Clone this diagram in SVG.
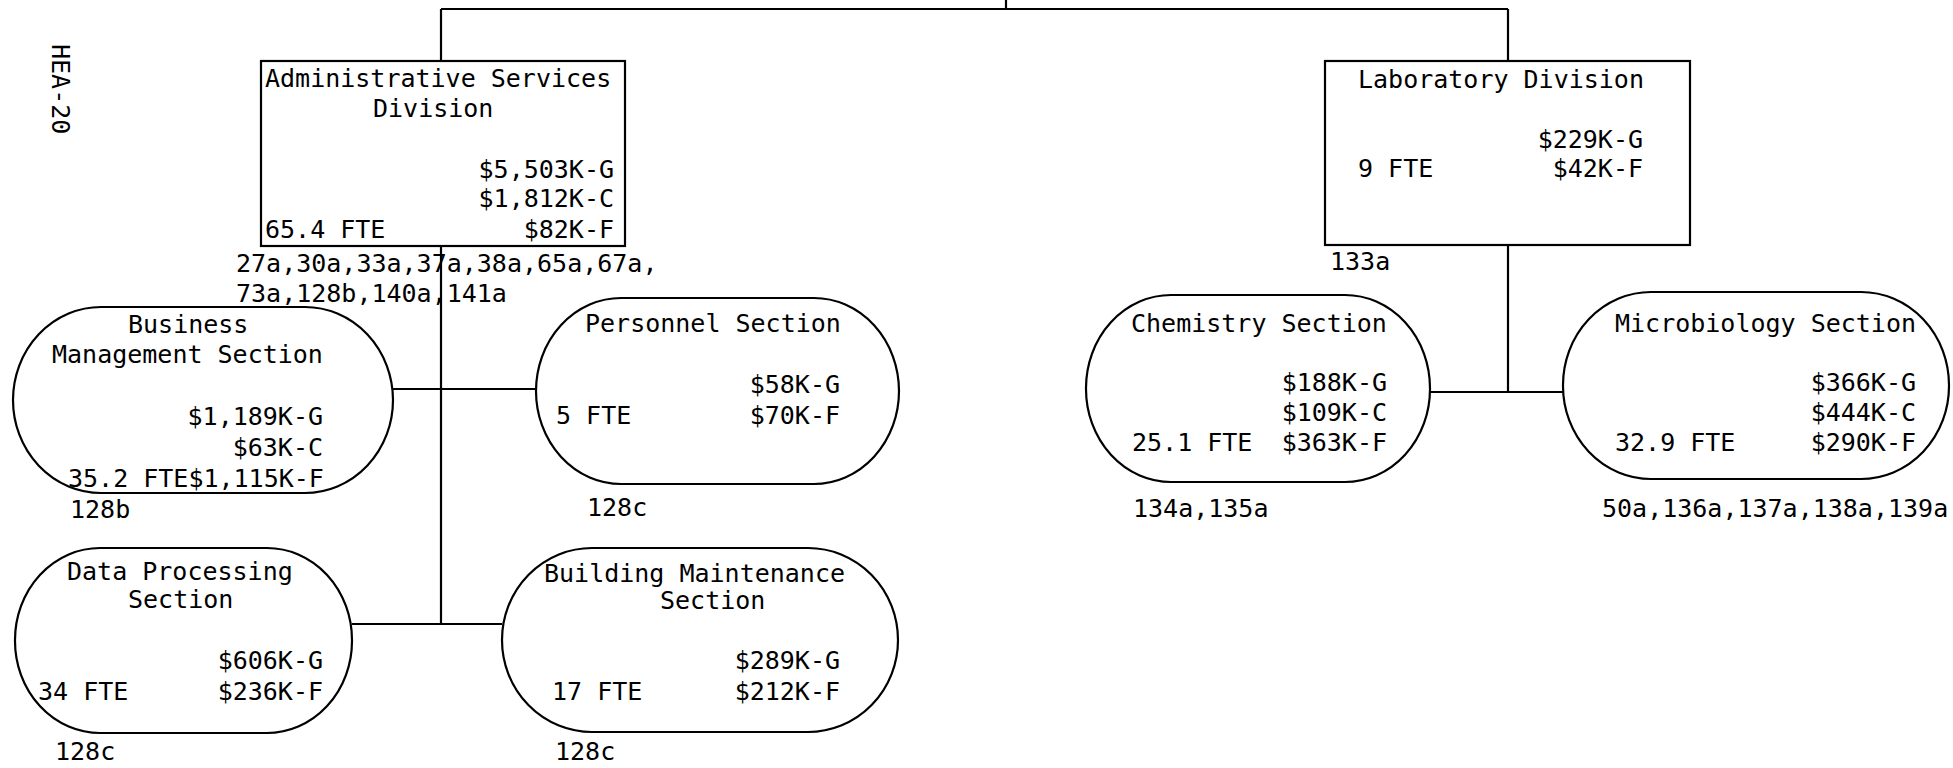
<svg xmlns="http://www.w3.org/2000/svg" width="1953" height="768" viewBox="0 0 1953 768">
<style>
.bg{fill:#fff}
.box{fill:none;stroke:#000;stroke-width:2.2}
.ln{fill:none;stroke:#000;stroke-width:2.2}
text{font-family:"DejaVu Sans Mono","Liberation Mono",monospace;font-size:25px;fill:#000}
.e{text-anchor:end}
</style>
<rect class="bg" x="0" y="0" width="1953" height="768"/>
<text transform="translate(52,44) rotate(90)">HEA-20</text>
<g id="connectors">
<path class="ln" d="M1006,0 V9"/>
<path class="ln" d="M441,9 H1508"/>
<path class="ln" d="M441,9 V61"/>
<path class="ln" d="M1508,9 V61"/>
<path class="ln" d="M441,246 V624"/>
<path class="ln" d="M393,389 H536"/>
<path class="ln" d="M352,624 H502"/>
<path class="ln" d="M1508,245 V392"/>
<path class="ln" d="M1430,392 H1563"/>
</g>
<g id="admin">
<rect class="box" x="261" y="61" width="364" height="185"/>
<text x="265" y="87">Administrative Services</text>
<text x="373" y="117">Division</text>
<text class="e" x="614" y="178">$5,503K-G</text>
<text class="e" x="614" y="207">$1,812K-C</text>
<text x="265" y="238">65.4 FTE</text>
<text class="e" x="614" y="238">$82K-F</text>
<text x="236" y="272">27a,30a,33a,37a,38a,65a,67a,</text>
<text x="236" y="302">73a,128b,140a,141a</text>
</g>
<g id="business">
<rect class="box" x="13" y="307" width="380" height="186" rx="88" ry="93"/>
<text x="128" y="333">Business</text>
<text x="52" y="363">Management Section</text>
<text class="e" x="323" y="425">$1,189K-G</text>
<text class="e" x="323" y="456">$63K-C</text>
<text x="68" y="487">35.2 FTE$1,115K-F</text>
<text x="70" y="518">128b</text>
</g>
<g id="personnel">
<rect class="box" x="536" y="298" width="363" height="186" rx="85" ry="93"/>
<text x="585" y="332">Personnel Section</text>
<text class="e" x="840" y="393">$58K-G</text>
<text x="556" y="424">5 FTE</text>
<text class="e" x="840" y="424">$70K-F</text>
<text x="587" y="516">128c</text>
</g>
<g id="dataproc">
<rect class="box" x="15" y="548" width="337" height="185" rx="85" ry="92"/>
<text x="67" y="580">Data Processing</text>
<text x="128" y="608">Section</text>
<text class="e" x="323" y="669">$606K-G</text>
<text x="38" y="700">34 FTE</text>
<text class="e" x="323" y="700">$236K-F</text>
<text x="55" y="760">128c</text>
</g>
<g id="building">
<rect class="box" x="502" y="548" width="396" height="184" rx="90" ry="92"/>
<text x="544" y="582">Building Maintenance</text>
<text x="660" y="609">Section</text>
<text class="e" x="840" y="669">$289K-G</text>
<text x="552" y="700">17 FTE</text>
<text class="e" x="840" y="700">$212K-F</text>
<text x="555" y="760">128c</text>
</g>
<g id="lab">
<rect class="box" x="1325" y="61" width="365" height="184"/>
<text x="1358" y="88">Laboratory Division</text>
<text class="e" x="1643" y="148">$229K-G</text>
<text x="1358" y="177">9 FTE</text>
<text class="e" x="1643" y="177">$42K-F</text>
<text x="1330" y="270">133a</text>
</g>
<g id="chemistry">
<rect class="box" x="1086" y="295" width="344" height="187" rx="85" ry="93"/>
<text x="1131" y="332">Chemistry Section</text>
<text class="e" x="1387" y="391">$188K-G</text>
<text class="e" x="1387" y="421">$109K-C</text>
<text x="1132" y="451">25.1 FTE</text>
<text class="e" x="1387" y="451">$363K-F</text>
<text x="1133" y="517">134a,135a</text>
</g>
<g id="microbiology">
<rect class="box" x="1563" y="292" width="386" height="187" rx="88" ry="93"/>
<text x="1615" y="332">Microbiology Section</text>
<text class="e" x="1916" y="391">$366K-G</text>
<text class="e" x="1916" y="421">$444K-C</text>
<text x="1615" y="451">32.9 FTE</text>
<text class="e" x="1916" y="451">$290K-F</text>
<text x="1602" y="517">50a,136a,137a,138a,139a</text>
</g>
</svg>
